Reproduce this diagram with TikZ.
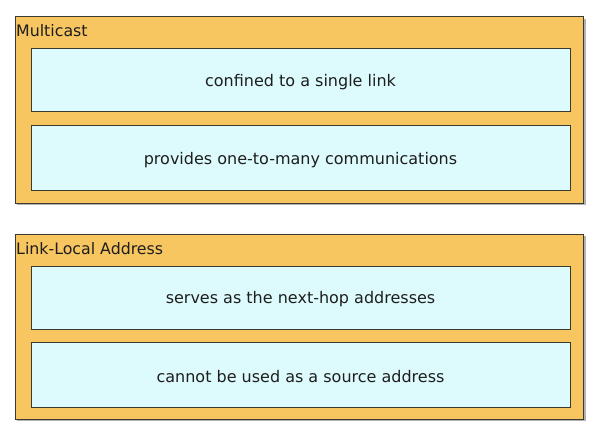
\documentclass[tikz,border=0pt]{standalone}
\usepackage{fontspec}
\setmainfont{DejaVu Sans}
\usetikzlibrary{positioning}
\definecolor{outerfill}{HTML}{F7C661}
\definecolor{innerfill}{HTML}{DDFBFD}
\definecolor{edge}{HTML}{3A3A30}
\definecolor{txt}{HTML}{1E1E1E}
\begin{document}
\begin{tikzpicture}[x=1pt,y=1pt,
  outerbox/.style={draw=edge,line width=1pt,fill=outerfill},
  innerbox/.style={draw=edge,line width=1pt,fill=innerfill,text=txt,font=\fontsize{16}{18}\selectfont},
  innerlabel/.style={draw=none,yshift=-2pt},
  shadowbox/.style={fill=black!30},
  title/.style={anchor=base west,inner sep=0pt,text=txt,font=\fontsize{15.8}{18}\selectfont}]
\useasboundingbox (0,0) rectangle (596,445);
\fill[white] (0,0) rectangle (596,445);
% group 1
\fill[shadowbox] (17,445-205) rectangle (586,445-19);
\draw[outerbox] (15,445-203) rectangle (583,445-17);
\node[title] (t1) at (16,445-37) {Multicast};
\draw[innerbox] (31,445-112) rectangle (570,445-49) node[midway,innerlabel] (a1) {confined to a single link};
\draw[innerbox] (31,445-190) rectangle (570,445-126) node[midway,innerlabel] (a2) {provides one-to-many communications};
% group 2
\fill[shadowbox] (17,445-421) rectangle (586,445-236);
\draw[outerbox] (15,445-419) rectangle (583,445-234);
\node[title] (t2) at (16,445-254) {Link-Local Address};
\draw[innerbox] (31,445-329) rectangle (570,445-266) node[midway,innerlabel] (b1) {serves as the next-hop addresses};
\draw[innerbox] (31,445-407) rectangle (570,445-342) node[midway,innerlabel] (b2) {cannot be used as a source address};
\end{tikzpicture}
\end{document}
